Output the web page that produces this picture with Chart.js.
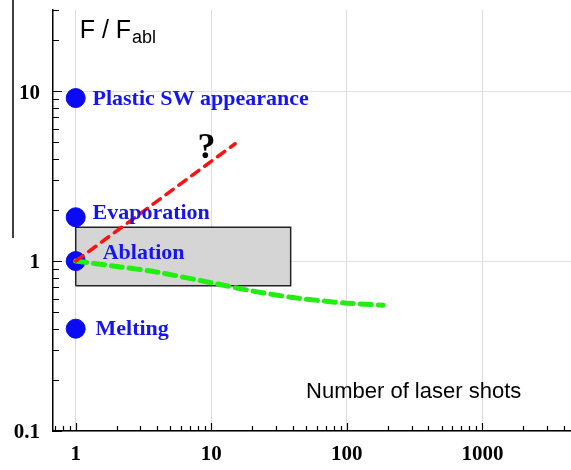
<!DOCTYPE html>
<html>
<head>
<meta charset="utf-8">
<script src="https://cdn.jsdelivr.net/npm/chart.js@4"></script>
<style>
  html, body { margin: 0; padding: 0; background: #fff; }
  #wrap { width: 571px; height: 470px; position: relative; }
</style>
</head>
<body>
<div id="wrap"><canvas id="shotsChart"></canvas></div>
<script>
// ====== DATA ======
const markerShots = [1, 1, 1, 1];
const markerLevels = [9.1, 1.81, 1.0, 0.4];
const markerNames = ['Plastic SW appearance', 'Evaporation', 'Ablation', 'Melting'];
// label anchors (data coords, left edge / middle)
const markerLabelX = [1.33, 1.33, 1.58, 1.40];
const markerLabelY = [9.1, 1.94, 1.13, 0.40];

const redShots = [1, 15];
const redLevels = [1.0, 4.9];

const greenShots = [1, 2, 4, 10, 20, 40, 70, 100, 185];
const greenLevels = [1.0, 0.93, 0.86, 0.745, 0.667, 0.61, 0.58, 0.565, 0.55];

// grey box: shots 1..38.5, level 0.716..1.58
const boxShots = [1, 1, 38.5, 38.5, 1];
const boxLevels = [0.716, 1.58, 1.58, 0.716, 0.716];

const xTickValues = [1, 10, 100, 1000];
const xTickLabels = ['1', '10', '100', '1000'];
const yTickValues = [0.1, 1, 10];
const yTickLabels = ['0.1', '1', '10'];
// ==================

const pts = (xs, ys) => xs.map((x, i) => ({ x: x, y: ys[i] }));
const near = (a, b) => Math.abs(Math.log10(a) - Math.log10(b)) < 1e-6;
const isDecade = v => near(v, Math.pow(10, Math.round(Math.log10(v))));

const serifBold = '"Liberation Serif", "Times New Roman", serif';
const sans = '"Liberation Sans", Arial, sans-serif';

// inward ticks, tick labels + text annotations
const decorPlugin = {
    id: 'decor',
    beforeDraw(chart) {
        const c = chart.ctx;
        c.save();
        c.strokeStyle = '#000';
        c.lineWidth = 1.5;
        c.beginPath();
        c.moveTo(13, 0);
        c.lineTo(13, 238);
        c.stroke();
        c.restore();
    },
    afterDraw(chart) {
        const c = chart.ctx;
        const xs = chart.scales.x, ys = chart.scales.y;
        const area = chart.chartArea;
        c.save();
        c.strokeStyle = '#000';
        c.lineWidth = 1.2;
        c.beginPath();
        for (let d = -2; d <= 4; d++) {
            for (let m = 1; m <= 9; m++) {
                const v = m * Math.pow(10, d);
                const len = m === 1 ? 8 : 5;
                if (v >= xs.min && v <= xs.max) {
                    const px = Math.round(xs.getPixelForValue(v)) + 0.5;
                    c.moveTo(px, area.bottom);
                    c.lineTo(px, area.bottom - len);
                }
                if (v >= ys.min && v <= ys.max) {
                    const py = Math.round(ys.getPixelForValue(v)) + 0.5;
                    c.moveTo(area.left, py);
                    c.lineTo(area.left + len + 1, py);
                }
            }
        }
        c.stroke();

        // tick labels
        c.fillStyle = '#000';
        c.font = 'bold 21px ' + serifBold;
        c.textBaseline = 'middle';
        c.textAlign = 'center';
        xTickValues.forEach((v, i) => {
            c.fillText(xTickLabels[i], xs.getPixelForValue(v), area.bottom + 24);
        });
        c.textAlign = 'right';
        yTickValues.forEach((v, i) => {
            c.fillText(yTickLabels[i], area.left - 13, ys.getPixelForValue(v) + 2);
        });

        // marker labels
        c.fillStyle = '#1515f0';
        c.font = 'bold 22px ' + serifBold;
        c.textAlign = 'left';
        markerNames.forEach((name, i) => {
            c.fillText(name, xs.getPixelForValue(markerLabelX[i]), ys.getPixelForValue(markerLabelY[i]) + 1);
        });

        // question mark
        c.fillStyle = '#000';
        c.font = 'bold 36px ' + serifBold;
        c.textAlign = 'center';
        c.fillText('?', xs.getPixelForValue(9.2), ys.getPixelForValue(4.7) + 2);

        // axis titles
        c.textAlign = 'left';
        c.font = '25px ' + sans;
        const fx = xs.getPixelForValue(1.07), fy = ys.getPixelForValue(22.5);
        c.fillText('F / F', fx, fy);
        const w = c.measureText('F / F').width;
        c.font = '18px ' + sans;
        c.fillText('abl', fx + w + 1, fy + 7);

        c.font = '22px ' + sans;
        c.fillText('Number of laser shots', xs.getPixelForValue(50), ys.getPixelForValue(0.17));
        c.restore();
    }
};

const ctx = document.getElementById('shotsChart').getContext('2d');
const shotsChart = new Chart(ctx, {
    type: 'scatter',
    data: {
        datasets: [
            {
                label: 'box',
                data: pts(boxShots, boxLevels),
                showLine: true,
                fill: 'shape',
                backgroundColor: '#d5d5d5',
                borderColor: '#222',
                borderWidth: 1.5,
                pointRadius: 0,
                order: 4
            },
            {
                label: 'levels',
                data: pts(markerShots, markerLevels),
                backgroundColor: '#0a0af5',
                borderColor: '#0a0af5',
                pointRadius: 9.5,
                order: 3
            },
            {
                label: 'green',
                data: pts(greenShots, greenLevels),
                showLine: true,
                borderColor: '#22ee11',
                borderWidth: 5,
                borderDash: [11, 7],
                borderCapStyle: 'round',
                tension: 0.3,
                pointRadius: 0,
                order: 2
            },
            {
                label: 'red',
                data: pts(redShots, redLevels),
                showLine: true,
                borderColor: '#ff1111',
                borderWidth: 3.5,
                borderDash: [9, 7],
                borderCapStyle: 'round',
                pointRadius: 0,
                order: 1
            }
        ]
    },
    options: {
        responsive: true,
        maintainAspectRatio: false,
        animation: false,
        layout: { autoPadding: false, padding: { top: 10, right: 0, left: 0, bottom: 0 } },
        plugins: {
            legend: { display: false },
            tooltip: { enabled: false }
        },
        scales: {
            x: {
                type: 'logarithmic',
                min: 0.68,
                max: 4500,
                afterFit: s => { s.height = 39; },
                border: { color: '#000', width: 1.5 },
                grid: {
                    color: c => (c.tick && isDecade(c.tick.value)) ? '#dcdcdc' : 'rgba(0,0,0,0)',
                    drawTicks: false,
                    lineWidth: 1
                },
                ticks: { display: false }
            },
            y: {
                type: 'logarithmic',
                min: 0.1,
                max: 30,
                afterFit: s => { s.width = 53; },
                border: { color: '#000', width: 1.5 },
                grid: {
                    color: c => (c.tick && isDecade(c.tick.value)) ? '#e2e2e2' : 'rgba(0,0,0,0)',
                    drawTicks: false,
                    lineWidth: 1
                },
                ticks: { display: false }
            }
        }
    },
    plugins: [decorPlugin]
});
</script>
</body>
</html>
